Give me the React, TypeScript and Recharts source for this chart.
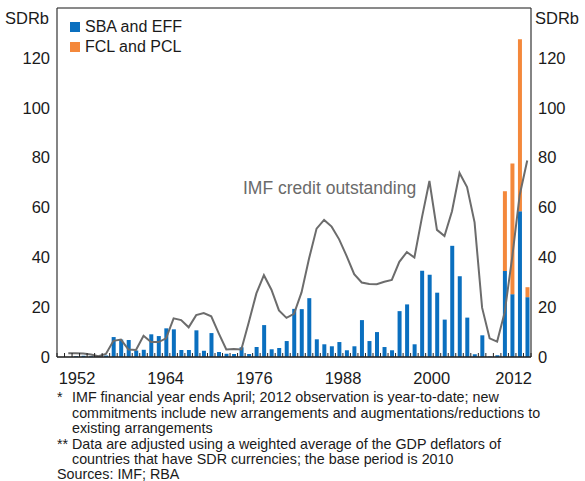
import React from 'react';
import { ComposedChart, Bar, Line, XAxis, YAxis, CartesianGrid, ReferenceLine } from 'recharts';

const years = [
  1950, 1951, 1952, 1953, 1954, 1955, 1956, 1957, 1958, 1959,
  1960, 1961, 1962, 1963, 1964, 1965, 1966, 1967, 1968, 1969,
  1970, 1971, 1972, 1973, 1974, 1975, 1976, 1977, 1978, 1979,
  1980, 1981, 1982, 1983, 1984, 1985, 1986, 1987, 1988, 1989,
  1990, 1991, 1992, 1993, 1994, 1995, 1996, 1997, 1998, 1999,
  2000, 2001, 2002, 2003, 2004, 2005, 2006, 2007, 2008, 2009,
  2010, 2011, 2012,
];

const sbaEff = [
  0, 0, 0.3, 0.5, 0.3, 0.4, 0.6, 8.0, 7.0, 6.8,
  2.6, 2.9, 9.1, 8.4, 11.5, 11.1, 2.8, 2.8, 10.7, 2.5,
  9.6, 2.0, 1.3, 1.2, 3.9, 1.2, 4.0, 12.8, 3.1, 3.6,
  6.4, 19.3, 19.2, 23.6, 7.1, 5.1, 4.3, 6.0, 2.7, 4.3,
  14.8, 6.4, 10.0, 4.0, 2.7, 18.4, 21.1, 5.1, 34.6, 33.0,
  25.8, 15.0, 44.6, 32.4, 15.8, 1.1, 8.7, 0.2, 0.7, 34.5,
  25.2, 58.5, 24.0,
];

const fclPcl = [
  0, 0, 0, 0, 0, 0, 0, 0, 0, 0,
  0, 0, 0, 0, 0, 0, 0, 0, 0, 0,
  0, 0, 0, 0, 0, 0, 0, 0, 0, 0,
  0, 0, 0, 0, 0, 0, 0, 0, 0, 0,
  0, 0, 0, 0, 0, 0, 0, 0, 0, 0,
  0, 0, 0, 0, 0, 0, 0, 0, 0, 32.0,
  52.4, 69.0, 4.0,
];

const creditOutstanding = [
  null, 1.5, 1.5, 1.4, 1.0, 0.3, 1.2, 6.5, 7.0, 3.0,
  2.8, 8.5, 6.0, 6.0, 7.5, 15.5, 14.8, 11.9, 16.8, 17.6,
  16.3, 9.5, 3.0, 3.2, 3.0, 14.0, 25.5, 32.8, 27.0, 18.7,
  15.7, 17.3, 25.9, 39.5, 51.5, 55.0, 52.3, 47.2, 40.5, 33.2,
  29.9, 29.3, 29.2, 30.2, 30.9, 38.2, 42.1, 39.9, 55.9, 70.6,
  51.0, 48.5, 58.5, 73.8, 68.2, 54.0, 19.8, 7.5, 6.2, 17.9,
  40.0, 65.0, 78.8,
];

const xTickLabels = [1952, 1964, 1976, 1988, 2000, 2012];
const yTicks = [0, 20, 40, 60, 80, 100, 120];

const data = years.map((year, i) => ({
  year,
  sba: sbaEff[i],
  fcl: fclPcl[i],
  credit: creditOutstanding[i],
}));

const W = 585;
const H = 481;
const PLOT_LEFT = 57;
const PLOT_RIGHT = 531;
const PLOT_W = PLOT_RIGHT - PLOT_LEFT;
const FONT = 'Arial, "Liberation Sans", Helvetica, sans-serif';
const TEXT = '#1a1a1a';
const BLUE = '#0a6fbf';
const ORANGE = '#f4883b';
const LINE = '#6c6c6c';

// label layout: labels are spaced slightly tighter than the bar slots, last one right-aligned
const LABEL_FIRST_X = 77;
const LABEL_PX_PER_YEAR = 7.39;

const XTick = (props: any) => {
  const { x, y, payload, index } = props;
  const half = PLOT_W / years.length / 2;
  const yr = payload.value;
  const isLast = yr === xTickLabels[xTickLabels.length - 1];
  const lx = isLast ? PLOT_RIGHT + 1 : LABEL_FIRST_X + (yr - xTickLabels[0]) * LABEL_PX_PER_YEAR;
  return (
    <g>
      <line x1={x - half} x2={x - half} y1={y} y2={y - 4} stroke="#222" strokeWidth={1} />
      {index === years.length - 1 && (
        <line x1={x + half} x2={x + half} y1={y} y2={y - 4} stroke="#222" strokeWidth={1} />
      )}
      {xTickLabels.includes(yr) && (
        <text
          x={lx}
          y={y + 27}
          textAnchor={isLast ? 'end' : 'middle'}
          fontSize={16.5}
          fill={TEXT}
          fontFamily={FONT}
        >
          {yr}
        </text>
      )}
    </g>
  );
};

const footLines: { top: number; left: number; text: string }[] = [
  { top: 390, left: 57, text: '*' },
  { top: 390, left: 72, text: 'IMF financial year ends April; 2012 observation is year-to-date; new' },
  { top: 405.5, left: 72, text: 'commitments include new arrangements and augmentations/reductions to' },
  { top: 421, left: 72, text: 'existing arrangements' },
  { top: 436.5, left: 57, text: '**' },
  { top: 436.5, left: 72, text: 'Data are adjusted using a weighted average of the GDP deflators of' },
  { top: 452, left: 72, text: 'countries that have SDR currencies; the base period is 2010' },
  { top: 467, left: 57, text: 'Sources: IMF; RBA' },
];

export default function App() {
  return (
    <div style={{ position: 'absolute', left: 0, top: 0, width: W, height: H, background: '#fff', fontFamily: FONT, overflow: 'hidden' }}>
      <ComposedChart
        width={W}
        height={H}
        data={data}
        margin={{ top: 8, right: 9, bottom: 94, left: 12 }}
        barSize={4}
      >
        <CartesianGrid vertical={false} stroke="#c4c4c4" strokeWidth={1} />
        <XAxis
          dataKey="year"
          type="category"
          interval={0}
          height={30}
          tickSize={0}
          tickMargin={0}
          tickLine={false}
          axisLine={{ stroke: '#222', strokeWidth: 1.5 }}
          tick={<XTick />}
        />
        <YAxis
          yAxisId="left"
          orientation="left"
          width={45}
          domain={[0, 140]}
          ticks={yTicks}
          tickSize={0}
          tickMargin={7}
          tickLine={false}
          axisLine={{ stroke: '#333', strokeWidth: 1.2 }}
          tick={{ fontSize: 16.5, fill: TEXT, fontFamily: FONT }}
          allowDataOverflow
        />
        <YAxis
          yAxisId="right"
          orientation="right"
          width={45}
          domain={[0, 140]}
          ticks={yTicks}
          tickSize={0}
          tickMargin={7}
          tickLine={false}
          axisLine={{ stroke: '#333', strokeWidth: 1.2 }}
          tick={{ fontSize: 16.5, fill: TEXT, fontFamily: FONT, textAnchor: 'start' }}
          allowDataOverflow
        />
        <ReferenceLine yAxisId="left" y={140} stroke="#333" strokeWidth={1.2} />
        <Bar yAxisId="left" dataKey="sba" stackId="a" fill={BLUE} isAnimationActive={false} />
        <Bar yAxisId="left" dataKey="fcl" stackId="a" fill={ORANGE} isAnimationActive={false} />
        <Line
          yAxisId="left"
          type="linear"
          dataKey="credit"
          stroke={LINE}
          strokeWidth={2}
          dot={false}
          activeDot={false}
          isAnimationActive={false}
        />
      </ComposedChart>

      <svg
        width={W}
        height={H}
        style={{ position: 'absolute', left: 0, top: 0, pointerEvents: 'none' }}
      >
        <text x={5} y={24} fontSize={16.5} fill={TEXT} fontFamily={FONT}>SDRb</text>
        <text x={535} y={24} fontSize={16.5} fill={TEXT} fontFamily={FONT}>SDRb</text>
        <text x={243} y={194} fontSize={17.5} fill="#6a6a6a" fontFamily={FONT}>IMF credit outstanding</text>
        <rect x={70} y={22} width={10} height={10} fill={BLUE} />
        <text x={85} y={32} fontSize={16} fill={TEXT} fontFamily={FONT}>SBA and EFF</text>
        <rect x={70} y={42} width={10} height={10} fill={ORANGE} />
        <text x={85} y={52} fontSize={16} fill={TEXT} fontFamily={FONT}>FCL and PCL</text>
      </svg>

      {footLines.map((l, i) => (
        <div
          key={i}
          style={{
            position: 'absolute',
            left: l.left,
            top: l.top,
            fontSize: 14.3,
            lineHeight: '13px',
            paddingTop: 1,
            color: TEXT,
            whiteSpace: 'nowrap',
            fontFamily: FONT,
          }}
        >
          {l.text}
        </div>
      ))}
    </div>
  );
}
